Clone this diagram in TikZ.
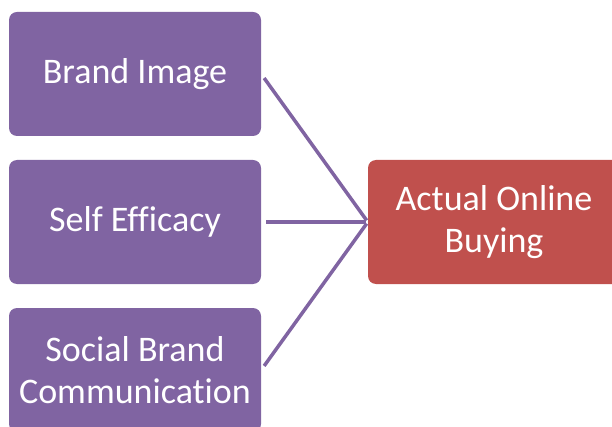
\documentclass[tikz,border=0pt]{standalone}
\usepackage{fontspec}
\setmainfont[Ligatures={NoCommon,NoRequired}]{Carlito}
\usetikzlibrary{positioning}

\definecolor{boxpurple}{HTML}{8064A2}
\definecolor{boxred}{HTML}{C0504D}

\tikzset{
    factor/.style={rectangle, rounded corners=8pt, fill=boxpurple, text=white,
        minimum width=252pt, minimum height=124pt, inner sep=0pt, align=center,
        font=\fontsize{36}{42}\selectfont},
    outcome/.style={factor, fill=boxred},
    link/.style={draw=boxpurple, line width=3.5pt, shorten <=5pt, shorten >=2pt}
}

\begin{document}
\begin{tikzpicture}[x=1pt,y=-1pt]
    \useasboundingbox (0,0) rectangle (612,427);

    \node[factor] (image) at (135,74) {Brand Image};
    \node[factor] (efficacy) at (135,222) {Self Efficacy};
    \node[factor] (social) at (135,370) {Social Brand\\Communication};
    \node[outcome] (buying) at (494,222) {Actual Online\\Buying};

    \foreach \src in {image,efficacy,social}
        \draw[link] (\src.east) -- (buying.west);
\end{tikzpicture}
\end{document}
